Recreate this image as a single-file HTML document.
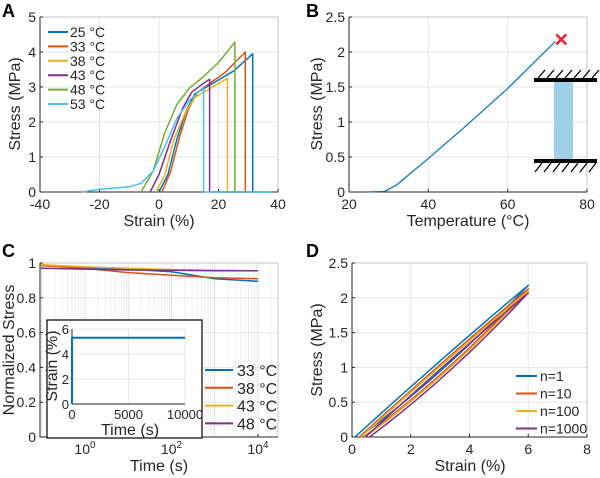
<!DOCTYPE html>
<html><head><meta charset="utf-8">
<style>
body{margin:0;background:#fff;}
svg{display:block;font-family:"Liberation Sans",sans-serif;}
.t{font-size:14px;fill:#262626;}
.ti{font-size:13px;fill:#262626;}
.l{font-size:16px;fill:#262626;}
.p{font-size:18px;font-weight:bold;fill:#000;}
.g{stroke:#e6e6e6;stroke-width:1;}
</style></head>
<body>
<svg id="fig" width="600" height="478" viewBox="0 0 600 478"></svg>
<script>
const C=['#0072BD','#D95319','#EDB120','#7E2F8E','#77AC30','#4DBEEE'];
// Panel A
const aLabels=['25 °C','33 °C','38 °C','43 °C','48 °C','53 °C'];
const aX=[[0,3,6,9,12,16,20,25,31.5,31.5,38],[1,4,7,10,13,17,22,29,29,33],[-1,2,5,9,12,16,23,23,33],[-3,0,4,8,11,14,17,17,30],[-6,-2,2,6,10,15,20,25.5,25.5,30],[-26,-20,-10,-6,-2,2,6,10,15,15,38]];
const aY=[[0,0.5,1.5,2.3,2.8,3.0,3.2,3.45,3.95,0,0],[0,0.6,1.6,2.4,2.85,3.1,3.4,4.0,0,0],[0,0.5,1.5,2.3,2.7,2.9,3.25,0,0],[0,0.5,1.5,2.4,2.85,3.05,3.22,0,0],[0,0.6,1.7,2.5,2.95,3.3,3.7,4.28,0,0],[0,0.08,0.15,0.25,0.6,1.3,2.1,2.6,3.0,0,0]];
const aXT=[-40,-20,0,20,40], aYT=[0,1,2,3,4,5];
// Panel B
const bX=[25,29,32,40,50,60,72], bY=[0,0.01,0.1,0.48,0.97,1.48,2.15];
const bBreak=[73.5,2.18];
const bXT=[20,40,60,80], bYT=[0,0.5,1,1.5,2,2.5];
// Panel C
const cLabels=['33 °C','38 °C','43 °C','48 °C'];
const cT=[0.095,1,10,100,1000,10000];
const cY=[[0.99,0.975,0.965,0.95,0.91,0.895],[0.985,0.97,0.945,0.93,0.915,0.91],[0.99,0.978,0.97,0.962,0.958,0.955],[0.97,0.965,0.96,0.958,0.956,0.955]];
const cYT=[0,0.2,0.4,0.6,0.8,1];
const insT=[0,0,10000], insS=[0,5.3,5.3];
// Panel D
const dLabels=['n=1','n=10','n=100','n=1000'];
const dStart=[0.1,0.25,0.3,0.45], dTop=[2.18,2.13,2.1,2.07];
const dXT=[0,2,4,6,8], dYT=[0,0.5,1,1.5,2,2.5];

const svg=document.getElementById('fig');const NS='http://www.w3.org/2000/svg';
function el(t,a,name,parent){const e=document.createElementNS(NS,t);for(const k in a)e.setAttribute(k,a[k]);


(parent||svg).appendChild(e);return e;}
function txt(x,y,s,cls,name,anchor,rot){const e=el('text',{x:x,y:y,class:cls,'text-anchor':anchor||'middle'},name);if(rot)e.setAttribute('transform','rotate(-90 '+x+' '+y+')');e.textContent=s;return e;}
function lin(d0,d1,p0,p1){return v=>p0+(v-d0)/(d1-d0)*(p1-p0);}
function axes(sx,sy,x0,x1,y0,y1,xt,yt,xfmt,name,grid){
  if(grid){(xt||[]).forEach(v=>el('line',{x1:sx(v),x2:sx(v),y1:y0,y2:y1,class:'g'},name+'-xgrid'));yt.forEach(v=>el('line',{x1:x0,x2:x1,y1:sy(v),y2:sy(v),class:'g'},name+'-ygrid'));}
  el('rect',{x:x0,y:y1,width:x1-x0,height:y0-y1,fill:'none',stroke:'#bdbdbd','stroke-width':0.8},name+'-box');
  el('line',{x1:x0,x2:x1,y1:y0,y2:y0,stroke:'#262626'},name+'-x-axis');
  el('line',{x1:x0,x2:x0,y1:y0,y2:y1,stroke:'#262626'},name+'-y-axis');
  if(xt)xt.forEach(v=>{el('line',{x1:sx(v),x2:sx(v),y1:y0,y2:y0-3,stroke:'#262626'},name+'-xtick');txt(sx(v),y0+17,xfmt?xfmt(v):String(v),'t',name+'-xtick-label');});
  yt.forEach(v=>{el('line',{x1:x0,x2:x0+3,y1:sy(v),y2:sy(v),stroke:'#262626'},name+'-ytick');txt(x0-4,sy(v)+5,String(v),'t',name+'-ytick-label','end');});
}
function path(xs,ys,sx,sy,col,w,name,parent){let d='';xs.forEach((x,i)=>d+=(i?'L':'M')+sx(x).toFixed(1)+' '+sy(ys[i]).toFixed(1));return el('path',{d:d,fill:'none',stroke:col,'stroke-width':w||1.5,'stroke-linejoin':'round'},name,parent);}

// A
{const sx=lin(-40,40,40,278),sy=lin(0,5,192,17);
axes(sx,sy,40,278,192,17,aXT,aYT,null,'a',true);
aX.forEach((xs,i)=>path(xs,aY[i],sx,sy,C[i],1.5,'a-line-'+i));
aLabels.forEach((s,i)=>{const y=32+i*14.4;el('line',{x1:48,x2:68,y1:y,y2:y,stroke:C[i],'stroke-width':2},'a-legend-line');txt(70,y+5,s,'t','a-legend-entry','start');});
txt(159,226,'Strain (%)','l','a-x-axis-title');txt(20,104,'Stress (MPa)','l','a-y-axis-title','middle',true);
txt(2,17,'A','p','panel-a-label','start');}
// B
{const sx=lin(20,80,349,587),sy=lin(0,2.5,192,17);
axes(sx,sy,349,587,192,17,bXT,bYT,null,'b',true);
path(bX,bY,sx,sy,C[0],1.2,'b-line');
const bx=sx(bBreak[0]),by=sy(bBreak[1]);
el('path',{d:`M${bx-5} ${by-5}L${bx+5} ${by+5}M${bx-5} ${by+5}L${bx+5} ${by-5}`,stroke:'#e8212b','stroke-width':2.5},'b-break-marker');
el('rect',{x:554,y:82,width:19,height:77,fill:'#9fd0e8'},'b-sample');
el('rect',{x:534,y:78,width:63,height:4,fill:'#000'},'b-top-clamp');
el('rect',{x:534,y:159,width:63,height:4,fill:'#000'},'b-bottom-clamp');
let h='';for(let i=0;i<7;i++){const x=538+i*9;h+=`M${x} 78L${x+7} 70M${x-3} 172L${x+4} 163`;}
el('path',{d:h,stroke:'#000','stroke-width':1.3},'b-hatch');
txt(468,226,'Temperature (°C)','l','b-x-axis-title');txt(322,104,'Stress (MPa)','l','b-y-axis-title','middle',true);
txt(306,17,'B','p','panel-b-label','start');}
// C
{const lg=v=>Math.log10(v);const sx=v=>85+lg(v)*43.25,sy=lin(0,1,437,263);
for(let e=-1;e<=4;e++)for(let m=1;m<10;m++){const v=m*Math.pow(10,e);const x=sx(v);if(x>40&&x<278)el('line',{x1:x,x2:x,y1:437,y2:263,stroke:m==1?'#e0e0e0':'#f0f0f0'},'c-xgrid');}
axes(sx,sy,40,278,437,263,null,cYT,null,'c',true);
[1,100,10000].forEach((v,i)=>{el('line',{x1:sx(v),x2:sx(v),y1:437,y2:434,stroke:'#262626'},'c-xtick');
const t=el('text',{x:sx(v),y:454,class:'t','text-anchor':'middle'},'c-xtick-label');t.textContent='10';const s=document.createElementNS(NS,'tspan');s.setAttribute('dy','-6');s.setAttribute('font-size','10');s.textContent=String(i*2);t.appendChild(s);});
cY.forEach((ys,i)=>path(cT,ys,sx,sy,C[i],1.5,'c-line-'+i));
cLabels.forEach((s,i)=>{const y=370+i*17.8;el('line',{x1:205,x2:233,y1:y,y2:y,stroke:C[i],'stroke-width':2},'c-legend-line');txt(237,y+6,s,'l','c-legend-entry','start');});
el('rect',{x:47,y:320,width:155,height:118,fill:'#fff',stroke:'#000','stroke-width':1.2},'c-inset');
const ix=lin(0,10000,72,185),iy=lin(0,6,404,329);
[0,2,4,6].forEach(v=>el('line',{x1:72,x2:185,y1:iy(v),y2:iy(v),class:'g'},'inset-ygrid'));
[0,5000,10000].forEach(v=>{el('line',{x1:ix(v),x2:ix(v),y1:404,y2:329,class:'g'},'inset-xgrid');txt(ix(v),419,String(v),'ti','inset-xtick-label');});
[0,2,4,6].forEach(v=>txt(69,iy(v)+5,String(v),'ti','inset-ytick-label','end'));
el('line',{x1:72,x2:185,y1:404,y2:404,stroke:'#262626'},'inset-x-axis');el('line',{x1:72,x2:72,y1:404,y2:329,stroke:'#262626'},'inset-y-axis');
path(insT,insS,ix,iy,C[0],2,'inset-line');
txt(130,435,'Time (s)','l','inset-x-axis-title');txt(57,366,'Strain (%)','l','inset-y-axis-title','middle',true);
txt(159,471,'Time (s)','l','c-x-axis-title');txt(14,350,'Normalized Stress','l','c-y-axis-title','middle',true);
txt(2,257,'C','p','panel-c-label','start');}
// D
{const sx=lin(0,8,352,587),sy=lin(0,2.5,437,263);
axes(sx,sy,352,587,437,263,dXT,dYT,null,'d',true);
dStart.forEach((s0,i)=>{const top=dTop[i];const xs=[],ys=[];
for(let k=0;k<=10;k++){const f=k/10;xs.push(s0+(6-s0)*f);ys.push(top*f*(1.04-0.04*f));}
for(let k=10;k>=0;k--){const f=k/10;xs.push(s0+0.15+(6-s0-0.15)*f);ys.push(top*f*(0.82+0.18*f));}
path(xs,ys,sx,sy,C[i],1.5,'d-loop-'+i);});
dLabels.forEach((s,i)=>{const y=376+i*17.5;el('line',{x1:516,x2:537,y1:y,y2:y,stroke:C[i],'stroke-width':2},'d-legend-line');txt(540,y+5,s,'t','d-legend-entry','start');});
txt(470,471,'Strain (%)','l','d-x-axis-title');txt(322,350,'Stress (MPa)','l','d-y-axis-title','middle',true);
txt(306,257,'D','p','panel-d-label','start');}
</script>
</body></html>
